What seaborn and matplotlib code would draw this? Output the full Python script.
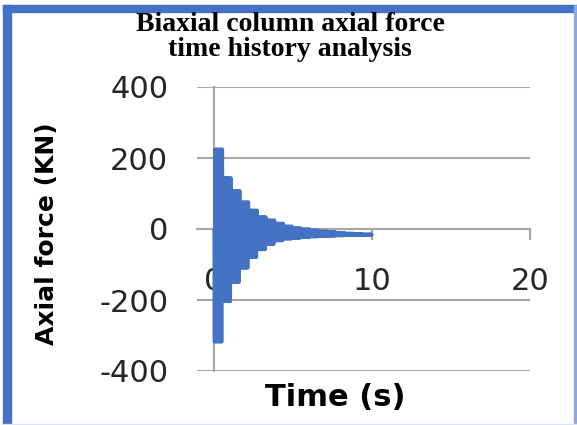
import matplotlib
matplotlib.use("Agg")
import matplotlib.pyplot as plt
from matplotlib.patches import Rectangle
import numpy as np
import pandas as pd
import seaborn as sns

# Envelope of the axial force record: each segment holds a burst of
# oscillation between its upper and lower peak (kN).
segment_edges = [0.0, 0.55, 1.1, 1.65, 2.2, 2.75, 3.3, 3.85, 4.4, 4.95,
                 5.5, 6.05, 6.6, 7.15, 7.7, 8.25, 8.8, 9.35, 10.0]
upper_peaks = [225, 144, 108, 76, 53, 34, 25, 16, 8, 3,
               0, -3, -6, -8, -10, -12, -13, -14]
lower_peaks = [-318, -204, -150, -110, -80, -58, -43, -33, -28, -26,
               -24, -22, -21, -20, -19, -18, -18, -18]
cycles_per_segment = 6

x_ticks = [0, 10, 20]
y_ticks = [-400, -200, 0, 200, 400]

title = "Biaxial column axial force\ntime history analysis"
x_label = "Time (s)"
y_label = "Axial force (KN)"

line_blue = "#4472C4"
grid_grey = "#a6a6a6"
text_dark = "#262626"

# build the oscillating trace segment by segment
times, forces = [0.0], [0.0]
for i in range(len(upper_peaks)):
    t0, t1 = segment_edges[i], segment_edges[i + 1]
    n = 2 * cycles_per_segment
    for k in range(n):
        times.append(t0 + (k + 0.5) * (t1 - t0) / n)
        forces.append(lower_peaks[i] if k % 2 == 0 else upper_peaks[i])
times.append(segment_edges[-1])
forces.append((upper_peaks[-1] + lower_peaks[-1]) / 2)
df = pd.DataFrame({"time": times, "force": forces})

sns.set_theme(style="white")
plt.rcParams["font.family"] = ["DejaVu Sans"]
plt.rcParams["path.simplify"] = False

W, H = 577, 425
fig = plt.figure(figsize=(W / 100, H / 100), dpi=100)
fig.patch.set_facecolor("white")
ax = fig.add_axes([197 / W, 54 / H, 333 / W, 284 / H])

sns.lineplot(data=df, x="time", y="force", ax=ax, color=line_blue,
             linewidth=2.4, estimator=None, sort=False, zorder=3)
for ln in ax.get_lines():
    ln.set_solid_joinstyle("round")
    ln.set_solid_capstyle("round")

ax.set_xlim(-1.08, 20)
ax.set_ylim(-400, 400)
ax.set_xticks(x_ticks)
ax.set_yticks(y_ticks)
ax.set_xticklabels([str(v) for v in x_ticks])
ax.set_yticklabels([str(v) for v in y_ticks])
ax.set_xlabel("")
ax.set_ylabel("")

ax.yaxis.grid(True, color=grid_grey, linewidth=1.5)
ax.xaxis.grid(False)
for gl in ax.get_ygridlines():
    gl.set_clip_on(False)
ax.set_axisbelow(True)

for side in ("top", "right"):
    ax.spines[side].set_visible(False)
ax.spines["bottom"].set_position(("data", 0))
ax.spines["left"].set_position(("data", 0))
for side in ("bottom", "left"):
    ax.spines[side].set_color(grid_grey)
    ax.spines[side].set_linewidth(1.5)

ax.tick_params(axis="x", direction="out", length=8, width=1.5,
               color=grid_grey, pad=19, labelsize=22, labelcolor=text_dark,
               bottom=True)
ax.tick_params(axis="y", length=0, pad=33, labelsize=22,
               labelcolor=text_dark)

fig.text(0.503, 1 - 37 / H, title, ha="center", va="center",
         family="Liberation Serif", fontweight="bold", fontsize=20,
         color="black", linespacing=1.0)
fig.text(47 / W, 1 - 234 / H, y_label, rotation=90, ha="center",
         va="center", fontweight="bold", fontsize=18, color="black")
fig.text(335 / W, 1 - 398 / H, x_label, ha="center", va="center",
         fontweight="bold", fontsize=22, color="black")

# chart frame
fig.patches.append(Rectangle((3 / W, 0), 8 / W, 420 / H,
                             transform=fig.transFigure, color=line_blue))
fig.patches.append(Rectangle((3 / W, 413 / H), 574 / W, 7 / H,
                             transform=fig.transFigure, color=line_blue))
fig.patches.append(Rectangle((574 / W, 0), 1.5 / W, 420 / H,
                             transform=fig.transFigure, color="#8fa9dc"))
fig.patches.append(Rectangle((3 / W, 0), 574 / W, 1.5 / H,
                             transform=fig.transFigure, color="#dbe4f4"))

fig.savefig("out.png", dpi=100)
